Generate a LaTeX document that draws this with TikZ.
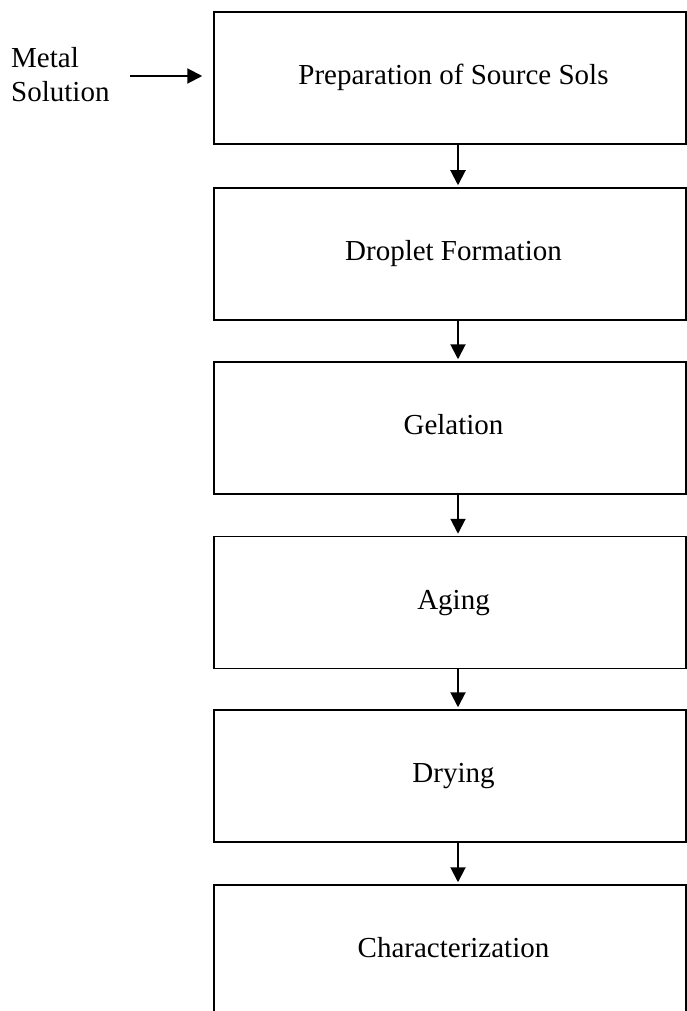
\documentclass[tikz,border=0pt]{standalone}
\usepackage{fontspec}
\setmainfont{Liberation Serif}
\usetikzlibrary{arrows.meta}
\tikzset{
  stepbox/.style={draw, line width=1.5pt, minimum width=472pt, minimum height=132pt,
    inner sep=0pt, text height=20pt, text depth=7pt, font=\fontsize{29}{34}\selectfont},
  arr/.style={line width=2pt, -{Triangle[length=15pt,width=15pt]}},
  lbl/.style={inner sep=0pt, align=left, font=\fontsize{29}{34}\selectfont}
}
\begin{document}
\begin{tikzpicture}[x=1pt,y=-1pt]
\clip (0,0) rectangle (687,1011);
\fill[white] (0,0) rectangle (687,1011);
\node[stepbox] (prep) at (450,78) {\hspace*{7pt}Preparation of Source Sols};
\node[stepbox] (drop) at (450,254) {\hspace*{7pt}Droplet Formation};
\node[stepbox] (gel) at (450,428) {\hspace*{7pt}Gelation};
\node[stepbox] (age) at (450,602.5) {\hspace*{7pt}Aging};
\node[stepbox] (dry) at (450,776) {\hspace*{7pt}Drying};
\node[stepbox] (char) at (450,951) {\hspace*{7pt}Characterization};
\node[lbl, anchor=base west] (metal) at (11,102) {Metal\\Solution};
\draw[arr, shorten <=20.7pt, shorten >=11pt] ([yshift=2pt]prep.west -| metal.east) -- ([yshift=2pt]prep.west);
\foreach \a/\b in {prep/drop, drop/gel, gel/age, age/dry, dry/char}
  \draw[arr, shorten >=2pt] ([xshift=8pt]\a.south) -- ([xshift=8pt]\b.north);
\end{tikzpicture}
\end{document}
